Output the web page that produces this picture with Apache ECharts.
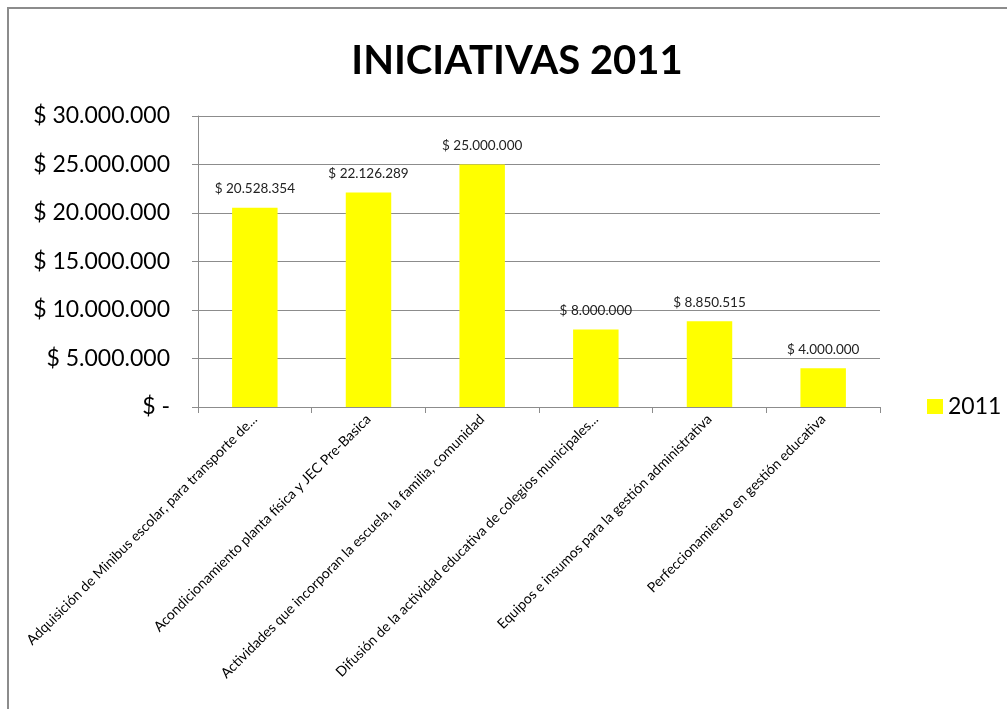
<!DOCTYPE html>
<html><head><meta charset="utf-8">
<script src="https://cdn.jsdelivr.net/npm/echarts@6/dist/echarts.min.js"></script>
<style>html,body{margin:0;padding:0;background:#fff}#c{width:1007px;height:709px}</style>
</head><body><div id="c"></div>
<script>
const categories = [
  "Adquisición de Minibus escolar, para transporte de...",
  "Acondicionamiento planta física y JEC Pre-Basica",
  "Actividades que incorporan la escuela, la familia, comunidad",
  "Difusión de la actividad educativa de colegios municipales...",
  "Equipos e insumos para la gestión administrativa",
  "Perfeccionamiento en gestión educativa"
];
const values2011 = [20528354, 22126289, 25000000, 8000000, 8850515, 4000000];
const seriesName = "2011";
const titleText = "INICIATIVAS 2011";

function fmt(v){
  if (v === 0) return "$ -";
  return "$ " + String(Math.round(v)).replace(/\B(?=(\d{3})+(?!\d))/g, ".");
}
const font = "Lato, 'Open Sans', sans-serif";
const chart = echarts.init(document.getElementById('c'));
chart.setOption({
  animation: false,
  backgroundColor: '#fff',
  title: { text: titleText, left: 512, top: 36, textAlign: 'center',
    textStyle: { fontFamily: font, fontSize: 40, fontWeight: 'bold', color: '#000' } },
  graphic: [{ type: 'rect', shape: { x: 8, y: 8, width: 1100, height: 800 },
    style: { fill: 'none', stroke: '#8c8c8c', lineWidth: 2 }, silent: true }],
  legend: { data: [seriesName], left: 922, top: 390, itemWidth: 16, itemHeight: 15, itemGap: 4,
    icon: 'rect', textStyle: { fontFamily: font, fontSize: 23, color: '#000' } },
  grid: { left: 198, right: 127, top: 116, bottom: 302 },
  xAxis: { type: 'category', data: categories,
    axisLine: { lineStyle: { color: '#8c8c8c', width: 1 } },
    axisTick: { show: true, length: 6, lineStyle: { color: '#8c8c8c' } },
    axisLabel: { rotate: 45, interval: 0, fontFamily: font, fontSize: 14, color: '#000', margin: 10 } },
  yAxis: { type: 'value', min: 0, max: 30000000, interval: 5000000,
    axisLine: { show: true, lineStyle: { color: '#8c8c8c' } },
    axisTick: { show: true, length: 6, lineStyle: { color: '#8c8c8c' } },
    splitLine: { lineStyle: { color: '#8c8c8c', width: 1 } },
    axisLabel: { formatter: fmt, fontFamily: font, fontSize: 23, color: '#000', margin: 28 } },
  series: [{ name: seriesName, type: 'bar', data: values2011, barWidth: '40%',
    itemStyle: { color: '#ffff00' },
    label: { show: true, position: 'top', distance: 12, formatter: p => fmt(p.value),
      fontFamily: font, fontSize: 13.5, color: '#222' } }]
});
</script></body></html>
